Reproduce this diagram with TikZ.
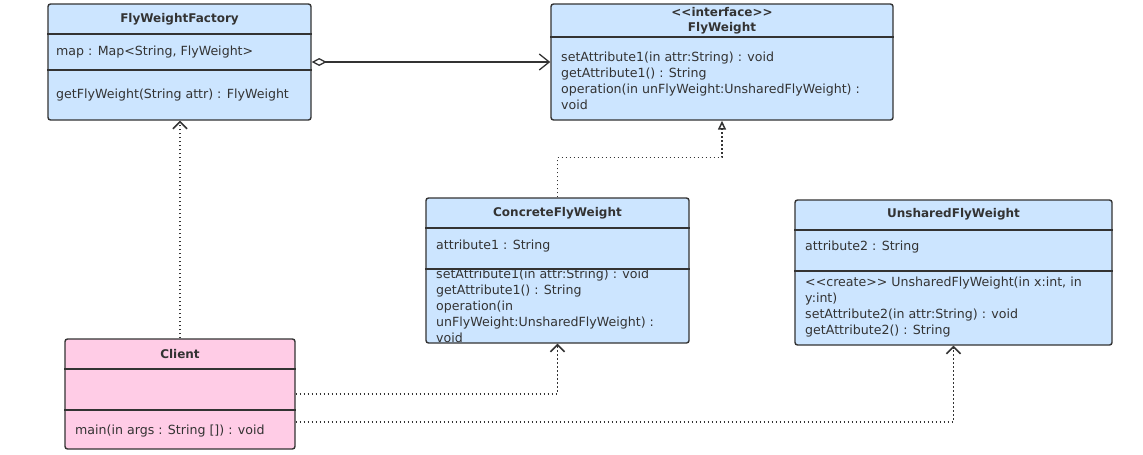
\documentclass[tikz,border=0pt]{standalone}
\usepackage{fontspec}
\setmainfont{DejaVu Sans}
\usepackage{xcolor}
\usepackage{tikz}
\usetikzlibrary{positioning}
\usetikzlibrary{arrows.meta}
\pgfdeclarelayer{nodelayer}
\pgfdeclarelayer{edgelayer}
\pgfsetlayers{edgelayer,nodelayer,main}
\definecolor{classblue}{RGB}{204,229,255}
\definecolor{clientpink}{RGB}{255,204,230}
\definecolor{linegray}{RGB}{51,51,51}
\tikzset{
    classbox/.style = {draw=linegray, line width=1.4pt, rounded corners=2.5pt, fill=classblue, inner sep=0pt},
    clientbox/.style = {classbox, fill=clientpink},
    sep/.style = {draw=linegray, line width=1.4pt},
    title/.style = {font=\fontsize{12}{14}\selectfont\bfseries, text=linegray, inner sep=0pt},
    member/.style = {font=\fontsize{12.6}{16}\selectfont, text=linegray, inner sep=0pt, anchor=west, align=left},
    depend/.style = {draw=linegray, line width=1.5pt, dash pattern=on 1.5pt off 2.5pt, -{Straight Barb[length=7pt,width=14pt]}},
    aggr/.style = {draw=linegray, line width=1.3pt, {Diamond[open,length=15pt,width=8pt]}-{Straight Barb[length=10pt,width=16pt]}},
    realize/.style = {draw=linegray, line width=1.5pt, dash pattern=on 1.5pt off 2.5pt, -{Triangle[open,length=9pt,width=8pt]}}
}
\begin{document}
\begin{tikzpicture}[x=1pt, y=-1pt]
    \useasboundingbox (0,0) rectangle (1143,455);
    \begin{pgfonlayer}{nodelayer}
        % class boxes
        \node [classbox, minimum width=263pt, minimum height=116pt] (factory) at (179.5,62) {};
        \node [classbox, minimum width=342pt, minimum height=116pt] (flyweight) at (722,62) {};
        \node [classbox, minimum width=263pt, minimum height=145pt] (concrete) at (557.5,270.5) {};
        \node [classbox, minimum width=317pt, minimum height=145pt] (unshared) at (953.5,272.5) {};
        \node [clientbox, minimum width=230pt, minimum height=110pt] (client) at (180,394) {};

        \draw [sep] (factory.west |- 0,34) -- (factory.east |- 0,34);
        \draw [sep] (factory.west |- 0,70) -- (factory.east |- 0,70);
        \draw [sep] (flyweight.west |- 0,37) -- (flyweight.east |- 0,37);
        \draw [sep] (concrete.west |- 0,228) -- (concrete.east |- 0,228);
        \draw [sep] (concrete.west |- 0,269) -- (concrete.east |- 0,269);
        \draw [sep] (unshared.west |- 0,230) -- (unshared.east |- 0,230);
        \draw [sep] (unshared.west |- 0,271) -- (unshared.east |- 0,271);
        \draw [sep] (client.west |- 0,369) -- (client.east |- 0,369);
        \draw [sep] (client.west |- 0,410) -- (client.east |- 0,410);

        % texts
        \node [title] (factoryname) at (179.5,19) {FlyWeightFactory};
        \node [member] (factorymap) at (56,52) {map : Map<String, FlyWeight>};
        \node [member] (factoryget) at (56,95) {getFlyWeight(String attr) : FlyWeight};

        \node [title] (flystereo) at (722,12) {<{}<interface>{}>};
        \node [title] (flyname) at (722,28) {FlyWeight};
        \node [member] (flyops) at (561,80.5) {setAttribute1(in attr:String) : void\\getAttribute1() : String\\operation(in unFlyWeight:UnsharedFlyWeight) :\\void};

        \node [title] (concretename) at (557.5,213) {ConcreteFlyWeight};
        \node [member] (concreteattr) at (436,246) {attribute1 : String};
        \begin{scope}
            \clip (427,270) rectangle (688,342);
            \node [member] (concreteops) at (436,306) {setAttribute1(in attr:String) : void\\getAttribute1() : String\\operation(in\\unFlyWeight:UnsharedFlyWeight) :\\void};
        \end{scope}

        \node [title] (unsharedname) at (953.5,214) {UnsharedFlyWeight};
        \node [member] (unsharedattr) at (805,247) {attribute2 : String};
        \node [member] (unsharedops) at (805,307.5) {<{}<create>{}> UnsharedFlyWeight(in x:int, in\\y:int)\\setAttribute2(in attr:String) : void\\getAttribute2() : String};

        \node [title] (clientname) at (180,354) {Client};
        \node [member] (clientmain) at (75,431) {main(in args : String []) : void};
    \end{pgfonlayer}
    \begin{pgfonlayer}{edgelayer}
        \draw [aggr] (factory.east) -- (flyweight.west);
        \draw [realize] (concrete.north) -- ++(0,-40) -| (flyweight.south);
        \draw [depend] (client.north) -- (client.north |- factory.south);
        \draw [depend] (client.east) -| (concrete.south);
        \draw [depend] ([yshift=-28pt]client.east) -| (unshared.south);
    \end{pgfonlayer}
\end{tikzpicture}
\end{document}
